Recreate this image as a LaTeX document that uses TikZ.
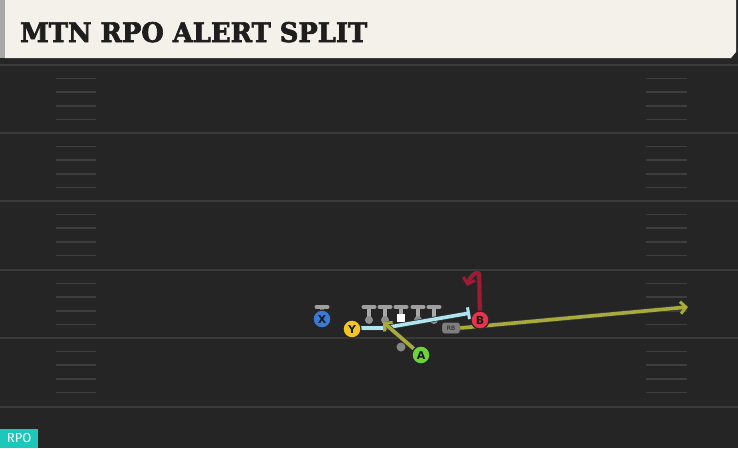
\documentclass[tikz,border=0pt]{standalone}
\usepackage{fontspec}
\usetikzlibrary{arrows.meta}
\newfontfamily\titlefont{DejaVu Serif}[BoldFeatures={FakeBold=2.5}]
\newfontfamily\lblfont{DejaVu Sans}
\newfontfamily\badgefont{Fira Sans}
\definecolor{field}{HTML}{252525}
\definecolor{yard}{HTML}{3A3A3A}
\definecolor{hashc}{HTML}{3E3E3E}
\definecolor{cream}{HTML}{F4F1EA}
\definecolor{xblue}{HTML}{3A7AD6}
\definecolor{yyel}{HTML}{F5C623}
\definecolor{agreen}{HTML}{6CD43A}
\definecolor{bred}{HTML}{E8344A}
\definecolor{olive}{HTML}{A9AA3C}
\definecolor{cyanr}{HTML}{ADE5F0}
\definecolor{maroon}{HTML}{A11A33}
\definecolor{teal}{HTML}{1CC8BA}
\definecolor{lgray}{HTML}{A8A8A8}
\definecolor{titlec}{HTML}{1E1E1E}
\tikzset{
  player/.style={circle,minimum size=18pt,inner sep=0pt,draw=black!85,line width=1.2pt,font=\lblfont\bfseries\fontsize{11}{11}\selectfont,text=black!90},
  route/.style={line width=3.6pt,preaction={draw=black!80,line width=5pt}},
  tbar/.style={line width=4pt,draw=lgray!110},
  tstem/.style={line width=3.5pt,draw=lgray},
  barb/.tip={Straight Barb[length=5.5pt,width=12pt,line width=3pt]}
}
\begin{document}
\begin{tikzpicture}[x=1pt,y=-1pt]
\useasboundingbox (0,0) rectangle (738,448);
\fill[field] (0,0) rectangle (738,448);
\fill[black!85] (0,56) rectangle (738,64);
% yard lines
\foreach \yy in {65,133,201,270,338,407}{
  \draw[yard,line width=2pt] (0,\yy) -- (738,\yy);
}
% hash marks
\foreach \yy in {65,133,201,270,338}{
  \foreach \o in {13.6,27.2,40.8,54.4}{
    \draw[hashc,line width=1.5pt] (56,\yy+\o) -- (96,\yy+\o);
    \draw[hashc,line width=1.5pt] (646,\yy+\o) -- (687,\yy+\o);
  }
}
% header
\fill[lgray] (0,0) rectangle (6,58);
\fill[cream] (5,0) -- (736,0) -- (736,52) -- (731,58) -- (5,58) -- cycle;
\node[anchor=base west,inner sep=0pt,text=titlec] (title) at (20,42) {\resizebox{347pt}{20pt}{\titlefont\bfseries MTN RPO ALERT SPLIT}};
% linemen
\foreach \xx in {369,385,401,418,434}{
  \draw[tstem] (\xx,307) -- (\xx,319);
  \draw[tbar,line cap=round] (\xx-5.5,307) -- (\xx+5.5,307);
}
\foreach \xx in {369,385,418,434}{
  \fill[lgray!85!black] (\xx,320) circle (4pt);
}
\fill[white] (397,314) rectangle (405,322);
% QB dot
\fill[lgray!80!black] (401,347) circle (4.5pt);
% X T
\draw[tstem] (322,307) -- (322,313);
\draw[tbar,line cap=round] (316.5,307) -- (327.5,307);
% route coordinates
\coordinate (yk) at (384,328);
\coordinate (blk) at (470,313);
\coordinate (lg) at (383,322);
\coordinate (rbend) at (688,307);
\coordinate (btop) at (479,274);
\coordinate (bend) at (467,286);
% RB
\node[fill=lgray!75!black,draw=black!80,rounded corners=2.5pt,inner sep=1.2pt,minimum width=18pt,minimum height=11pt,font=\lblfont\fontsize{6}{6}\selectfont,text=black!90] (rb) at (451,328) {RB};
% routes
\draw[route,draw=cyanr,-{Bar[width=12pt,line width=3pt]}] (352,328) -- (yk) -- (blk);
\draw[route,draw=olive,-barb] (rb.east) -- (rbend);
\node[player,fill=agreen] (A) at (421,355) {A};
\draw[route,draw=olive,-barb] (A) -- (lg);
\draw[route,draw=maroon,-barb] (480,312) -- (btop) .. controls (478,270) and (470,276) .. (bend);
% players
\node[player,fill=xblue] (X) at (322,319) {X};
\node[player,fill=yyel] (Y) at (352,329) {Y};
\node[player,fill=bred] (B) at (480,320) {B};
\node[player,fill=agreen] (A2) at (421,355) {A};
% badge
\node[fill=teal,anchor=south west,inner sep=0pt,minimum width=38pt,minimum height=19pt,text=white,font=\badgefont\fontsize{13}{13}\selectfont] (rpo) at (0,448) {RPO};
\end{tikzpicture}
\end{document}
